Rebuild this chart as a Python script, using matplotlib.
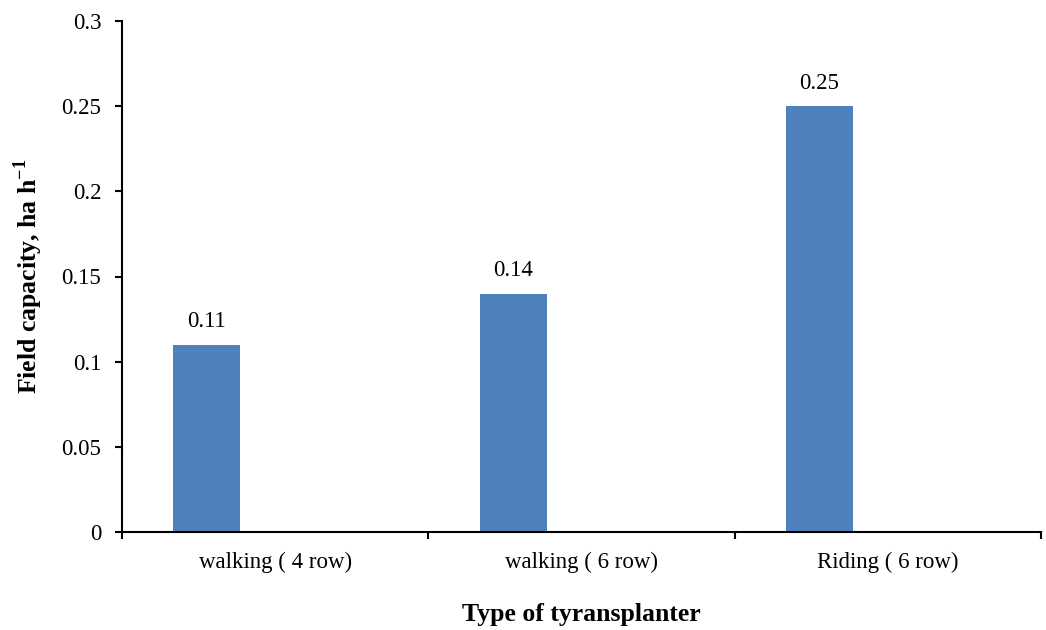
import numpy as np
import matplotlib.pyplot as plt

plt.rcParams['font.family'] = ['Liberation Serif', 'DejaVu Serif']
plt.rcParams['mathtext.fontset'] = 'custom'
plt.rcParams['mathtext.rm'] = 'Liberation Serif'
plt.rcParams['mathtext.bf'] = 'Liberation Serif:bold'

categories = ['walking ( 4 row)', 'walking ( 6 row)', 'Riding ( 6 row)']
field_capacity = [0.11, 0.14, 0.25]
value_labels = ['0.11', '0.14', '0.25']
y_ticks = [0, 0.05, 0.1, 0.15, 0.2, 0.25, 0.3]
y_tick_labels = ['0', '0.05', '0.1', '0.15', '0.2', '0.25', '0.3']

fig = plt.figure(figsize=(10.46, 6.3), dpi=100)
ax = fig.add_axes([122 / 1046, 98 / 630, 919 / 1046, 511 / 630])

x = np.arange(len(categories))
offset = -0.223
width = 0.219
bars = ax.bar(x + offset, field_capacity, width=width, color='#4F81BD')
for b, lab in zip(bars, value_labels):
    ax.annotate(lab, (b.get_x() + b.get_width() / 2, b.get_height()),
                xytext=(0, 9), textcoords='offset points',
                ha='center', va='bottom', fontsize=16.5)

ax.set_xlim(-0.5, 2.5)
ax.set_ylim(0, 0.3)
ax.set_yticks(y_ticks)
ax.set_yticklabels(y_tick_labels, fontsize=16.5)

# boundary ticks between categories, labels centred on categories
ax.set_xticks([-0.5, 0.5, 1.5, 2.5])
ax.set_xticklabels([])
ax.set_xticks(x, minor=True)
ax.set_xticklabels(categories, minor=True, fontsize=16.5)
ax.tick_params(axis='x', which='major', direction='out', length=5, width=1.5)
ax.tick_params(axis='x', which='minor', length=0, pad=14)
ax.tick_params(axis='y', direction='out', length=5, width=1.5, pad=10)

for s in ['top', 'right']:
    ax.spines[s].set_visible(False)
for s in ['left', 'bottom']:
    ax.spines[s].set_linewidth(1.5)

ax.set_xlabel('Type of tyransplanter', fontsize=18.5, fontweight='bold', labelpad=22)
ax.set_ylabel(r'Field capacity, ha h$^{\mathbf{-1}}$', fontsize=18.5, fontweight='bold', labelpad=12)

fig.savefig('out.png', dpi=100)
